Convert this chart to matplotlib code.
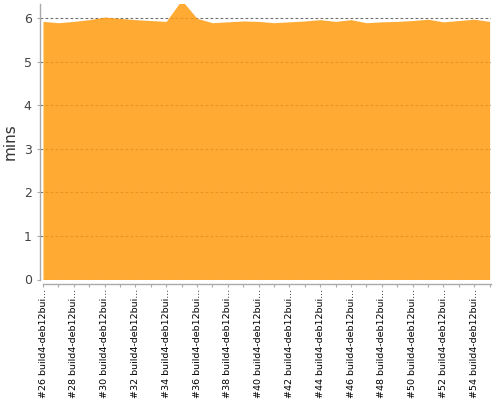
import matplotlib

matplotlib.use("Agg")
import matplotlib.pyplot as plt
import numpy as np

# build numbers and durations (minutes)
builds = list(range(26, 56))
durations = [
    5.93, 5.90, 5.93, 5.97, 6.03, 6.00, 5.97, 5.95, 5.93, 6.42,
    6.00, 5.90, 5.92, 5.94, 5.93, 5.90, 5.92, 5.94, 5.97, 5.93,
    5.97, 5.90, 5.92, 5.93, 5.95, 5.98, 5.92, 5.95, 5.98, 5.93,
]
labels = [f"#{b} build4-deb12bui..." for b in builds]
yticks = [0, 1, 2, 3, 4, 5, 6]

W, H = 500, 400
fig = plt.figure(figsize=(W / 100, H / 100), dpi=100)
ax_l, ax_r, ax_t, ax_b = 40, 491, 4, 279.5
ax = fig.add_axes([ax_l / W, 1 - ax_b / H, (ax_r - ax_l) / W, (ax_b - ax_t) / H])

x = np.arange(len(builds))
step = 15.4

# spines first: set_position resets the ticks
for side in ("top", "right"):
    ax.spines[side].set_visible(False)
ax.spines["left"].set_color("#aaaaaa")
ax.spines["left"].set_linewidth(1.0)
ax.spines["bottom"].set_color("#aaaaaa")
ax.spines["bottom"].set_linewidth(1.0)
ax.spines["bottom"].set_position(("outward", 3.3))

ax.set_xlim(-3 / step, len(builds) - 1 + 1.4 / step)
ax.set_ylim(0, 6.33)
ax.spines["bottom"].set_bounds(0, len(builds) - 1 + 1.4 / step)

ax.fill_between(x, durations, 0, color="#FF9B0F", alpha=0.85, lw=0, zorder=2)

ax.set_axisbelow(True)
ax.yaxis.grid(True, color="#707070", ls=(0, (2.5, 2)), lw=0.8)
ax.set_yticks(yticks)
ax.set_yticklabels([str(v) for v in yticks], fontsize=9, color="#444444")
ax.tick_params(axis="y", length=2, width=0.8, color="#aaaaaa", pad=4)

ax.set_xticks(x)
ax.set_xticklabels([lab if i % 2 == 0 else "" for i, lab in enumerate(labels)],
                   rotation=90, fontsize=6.8, va="top", ha="center", color="black")
ax.tick_params(axis="x", length=2.5, width=0.8, color="#aaaaaa", pad=1)

ax.set_ylabel("mins", fontsize=11, color="#333333", labelpad=4)

fig.savefig("out.png", dpi=100)
